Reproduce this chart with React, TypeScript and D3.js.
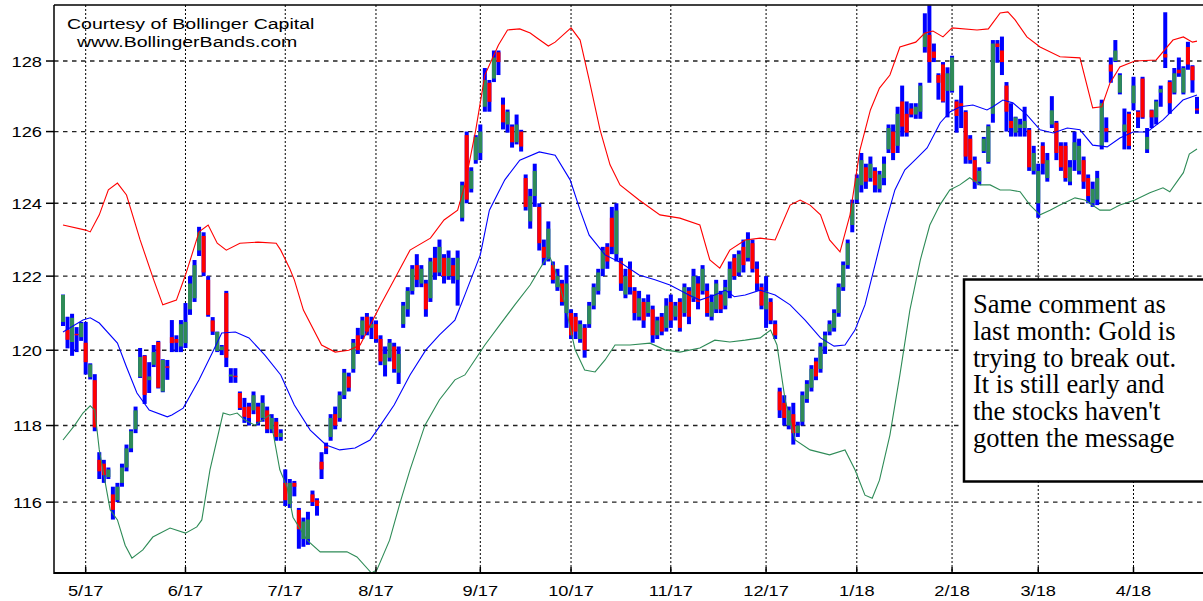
import React, { useEffect, useRef } from 'react';
import * as d3 from 'd3';

// month gridlines: label + trading-day index of the first session of the month
const monthLabels = ['5/17', '6/17', '7/17', '8/17', '9/17', '10/17', '11/17', '12/17', '1/18', '2/18', '3/18', '4/18'];
const monthDays = [5, 27, 49, 69, 92, 112, 134, 155, 175, 196, 215, 236];
const priceTicks = [116, 118, 120, 122, 124, 126, 128];

// daily bars, one entry per trading day (index 0 = late April 2017)
const opens = [
  120.76, 120.55, 120.22, 120.44, 120.35, 120.2, 119.28, 119.2, 117.1, 117.0,
  116.65, 116.2, 116.05, 116.5, 116.9, 117.4, 117.9, 119.29, 119.85, 119.2,
  119.61, 120.22, 118.9, 119.57, 120.35, 120.3, 120.1, 120.19, 121.1, 121.4,
  122.7, 123.1, 121.9, 120.8, 119.98, 120.0, 121.54, 119.3, 119.32, 118.86,
  118.49, 118.5, 118.4, 118.5, 118.2, 118.4, 117.9, 118.1, 117.7, 116.5,
  115.95, 116.5, 115.8, 115.05, 115.05, 116.2, 116.05, 117.05, 117.45, 117.7,
  118.3, 118.2, 118.8, 119.3, 119.5, 120.4, 120.4, 120.9, 120.6, 120.7,
  120.3, 119.6, 119.8, 120.1, 119.4, 120.7, 121.1, 121.6, 122.3, 121.8,
  121.8, 121.4, 122.5, 122.1, 122.5, 122.0, 122.3, 121.9, 123.6, 125.9,
  124.4, 125.2, 125.4, 126.7, 127.38, 127.5, 128.25, 126.76, 126.2, 126.14,
  125.7, 126.0, 124.7, 123.5, 124.2, 123.9, 122.8, 122.5, 122.3, 121.7,
  121.8, 121.0, 121.0, 120.9, 120.3, 120.6, 120.7, 121.2, 121.6, 122.2,
  122.8, 123.6, 122.6, 122.4, 121.5, 122.2, 121.6, 120.9, 121.3, 121.0,
  121.1, 120.4, 120.9, 120.6, 121.3, 120.9, 121.3, 121.0, 121.6, 121.4,
  121.8, 121.6, 121.6, 120.9, 121.1, 121.5, 121.2, 121.6, 122.5, 122.1,
  122.8, 122.5, 122.9, 122.2, 121.7, 121.1, 121.3, 120.7, 118.9, 118.6,
  118.0, 118.3, 117.8, 118.1, 118.7, 119.0, 119.7, 119.5, 120.1, 120.5,
  120.6, 121.0, 121.7, 122.3, 123.4, 124.1, 124.5, 125.0, 124.7, 124.9,
  124.4, 124.7, 125.5, 126.0, 125.6, 126.85, 126.5, 126.65, 126.48, 126.56,
  128.4, 128.75, 128.27, 127.6, 127.9, 127.15, 127.15, 126.85, 126.8, 126.55,
  125.8, 125.2, 124.6, 125.45, 125.15, 126.5, 128.5, 128.3, 127.3, 126.3,
  125.97, 126.1, 126.1, 126.05, 124.9, 124.0, 125.6, 124.7, 126.2, 126.25,
  125.6, 125.6, 124.6, 125.2, 124.9, 125.2, 124.7, 124.0, 124.1, 125.6,
  126.1, 127.9, 128.0, 127.1, 126.0, 126.5, 126.8, 126.56, 127.5, 125.5,
  126.6, 126.4, 127.1, 128.2, 127.4, 127.1, 127.75, 127.1, 128.4, 127.85,
  126.65,
];
const highs = [
  121.5, 120.9, 120.98, 120.62, 120.76, 120.76, 119.65, 119.36, 117.3, 117.1,
  116.9, 116.4, 116.5, 117.0, 117.5, 117.9, 118.5, 120.06, 119.87, 119.68,
  120.14, 120.25, 119.76, 119.74, 120.81, 120.4, 120.81, 121.27, 122.0, 122.44,
  123.35, 123.2, 122.0, 120.89, 120.5, 120.14, 121.6, 119.52, 119.52, 118.9,
  118.73, 118.6, 118.9, 118.6, 118.8, 118.5, 118.3, 118.2, 117.9, 116.85,
  116.6, 116.55, 115.85, 115.6, 115.75, 116.3, 116.1, 117.3, 117.55, 118.3,
  118.5, 118.9, 119.5, 119.4, 120.3, 120.6, 120.9, 121.0, 120.9, 120.8,
  120.4, 120.1, 120.3, 120.2, 120.1, 121.3, 121.7, 122.3, 122.6, 122.3,
  121.9, 122.5, 122.8, 123.0, 122.6, 122.7, 122.5, 122.7, 124.6, 126.0,
  125.0, 125.9, 126.2, 127.8, 127.46, 128.3, 128.3, 126.96, 126.62, 126.2,
  126.48, 126.05, 124.8, 124.4, 125.1, 124.0, 123.0, 123.5, 122.4, 122.2,
  121.9, 122.3, 121.1, 121.0, 120.8, 120.7, 121.3, 121.8, 122.2, 122.8,
  122.9, 123.9, 124.0, 122.5, 122.2, 122.4, 121.7, 121.6, 121.4, 121.5,
  121.2, 120.9, 121.0, 121.4, 121.5, 121.3, 121.4, 121.8, 121.7, 122.2,
  122.0, 122.3, 121.8, 121.5, 121.9, 121.6, 121.9, 122.4, 122.6, 122.7,
  123.0, 123.2, 123.0, 122.4, 121.8, 122.0, 121.4, 120.8, 119.0, 118.8,
  118.5, 118.6, 118.1, 118.9, 119.2, 119.6, 119.8, 120.2, 120.5, 120.8,
  121.1, 121.8, 122.4, 123.0, 124.1, 124.8, 125.4, 125.1, 125.3, 125.0,
  124.9, 125.3, 126.2, 126.2, 126.7, 127.3, 126.85, 126.8, 126.8, 127.38,
  129.37, 129.6, 128.5, 127.65, 127.97, 127.82, 128.15, 126.9, 127.3, 126.6,
  125.9, 125.3, 125.0, 125.85, 126.2, 128.6, 128.6, 128.7, 127.4, 126.8,
  126.42, 126.36, 126.7, 126.1, 125.6, 125.1, 125.7, 125.4, 127.0, 126.3,
  125.7, 125.7, 125.2, 126.0, 125.8, 125.3, 124.8, 124.6, 124.9, 126.9,
  126.4, 128.1, 128.6, 127.65, 126.65, 126.56, 127.55, 126.6, 127.55, 126.1,
  126.62, 126.9, 127.3, 129.4, 127.45, 127.8, 128.1, 127.85, 128.55, 127.88,
  126.98,
];
const lows = [
  120.65, 120.05, 119.85, 119.95, 120.25, 119.35, 119.22, 117.85, 116.6, 116.5,
  116.6, 115.55, 116.0, 116.4, 116.8, 117.3, 117.8, 119.26, 118.57, 118.86,
  119.55, 118.98, 118.88, 119.21, 119.95, 119.95, 119.95, 120.06, 120.95, 121.3,
  122.55, 122.0, 120.9, 120.41, 119.95, 119.87, 119.55, 119.13, 119.13, 118.41,
  118.07, 118.0, 118.3, 118.0, 118.1, 117.8, 117.8, 117.6, 117.6, 115.9,
  115.85, 116.15, 114.8, 114.85, 114.9, 115.9, 115.65, 116.6, 117.25, 117.6,
  117.9, 118.1, 118.7, 118.9, 119.4, 119.9, 120.3, 120.4, 120.3, 120.2,
  119.6, 119.3, 119.7, 119.4, 119.1, 120.6, 120.9, 121.5, 121.7, 121.7,
  120.9, 121.3, 121.9, 122.0, 121.8, 121.9, 121.8, 121.2, 123.5, 124.0,
  124.3, 125.1, 125.2, 126.56, 126.56, 127.4, 127.6, 126.06, 125.97, 125.55,
  125.64, 125.44, 123.8, 123.3, 123.9, 122.7, 122.3, 122.4, 121.8, 121.6,
  121.2, 120.6, 120.3, 120.3, 120.2, 119.8, 120.6, 121.1, 121.5, 122.0,
  122.2, 122.6, 122.4, 121.6, 121.4, 121.5, 120.8, 120.8, 120.6, 120.9,
  120.2, 120.3, 120.4, 120.5, 120.6, 120.8, 120.5, 120.9, 120.7, 121.3,
  121.1, 121.5, 120.9, 120.8, 121.0, 121.0, 121.1, 121.4, 121.9, 122.0,
  122.1, 122.4, 122.1, 121.6, 121.1, 120.6, 120.7, 120.3, 118.2, 118.0,
  117.9, 117.5, 117.7, 118.0, 118.6, 118.9, 119.2, 119.4, 119.9, 120.4,
  120.5, 120.9, 121.6, 122.2, 123.2, 124.0, 124.3, 124.4, 124.6, 124.3,
  124.3, 124.5, 125.4, 125.2, 125.4, 125.86, 125.86, 126.4, 126.36, 126.36,
  128.24, 127.38, 127.97, 126.9, 126.82, 126.4, 127.1, 125.97, 126.1, 125.1,
  125.1, 124.4, 124.5, 125.4, 125.1, 126.25, 127.95, 127.6, 126.0, 125.86,
  125.86, 125.86, 125.86, 124.9, 124.8, 123.6, 124.8, 124.6, 126.1, 125.2,
  124.9, 124.6, 124.5, 124.9, 124.8, 124.4, 124.0, 123.9, 123.95, 125.5,
  125.7, 127.38, 127.97, 127.05, 125.5, 125.5, 126.6, 126.1, 126.36, 125.4,
  126.1, 126.2, 126.7, 127.8, 126.5, 127.05, 127.55, 127.05, 127.75, 127.1,
  126.5,
];
const closes = [
  121.49, 120.28, 120.87, 120.4, 120.73, 119.68, 119.62, 117.95, 116.8, 116.7,
  116.85, 115.8, 116.4, 116.9, 117.4, 117.85, 118.4, 119.82, 118.81, 119.3,
  119.95, 119.0, 119.74, 119.53, 120.19, 120.2, 120.7, 120.76, 121.8, 122.3,
  123.2, 122.1, 120.95, 120.5, 120.49, 120.1, 119.8, 119.35, 119.28, 118.46,
  118.23, 118.2, 118.8, 118.1, 118.6, 117.9, 118.2, 117.7, 117.8, 116.05,
  116.5, 116.4, 115.3, 115.5, 115.55, 116.0, 115.9, 116.85, 117.4, 118.2,
  118.0, 118.8, 119.4, 119.0, 120.2, 120.0, 120.8, 120.5, 120.7, 120.3,
  119.7, 119.9, 120.2, 119.5, 119.9, 121.2, 121.6, 122.2, 121.9, 122.2,
  121.1, 122.4, 122.1, 122.8, 122.0, 122.5, 122.0, 122.5, 124.5, 124.1,
  124.9, 125.85, 126.0, 127.46, 126.84, 128.1, 127.97, 126.26, 126.56, 125.7,
  126.2, 125.58, 123.9, 124.2, 124.9, 122.9, 122.5, 123.3, 121.9, 122.0,
  121.3, 121.8, 120.4, 120.5, 120.7, 120.0, 121.2, 121.7, 122.1, 122.7,
  122.4, 122.8, 123.8, 121.8, 122.0, 121.7, 121.0, 121.4, 120.8, 121.3,
  120.4, 120.8, 120.5, 121.2, 120.8, 121.2, 120.6, 121.7, 120.9, 122.0,
  121.3, 122.2, 121.0, 121.3, 121.8, 121.1, 121.7, 122.2, 122.0, 122.6,
  122.3, 123.0, 122.2, 121.8, 121.2, 121.6, 120.8, 120.4, 118.4, 118.2,
  118.4, 117.8, 118.0, 118.8, 119.1, 119.5, 119.3, 120.1, 120.4, 120.7,
  121.0, 121.7, 122.3, 122.9, 124.0, 124.7, 125.2, 124.6, 125.1, 124.5,
  124.8, 125.1, 126.1, 125.4, 126.5, 126.14, 125.97, 126.48, 126.7, 127.3,
  128.8, 127.97, 128.09, 127.38, 126.85, 127.65, 128.1, 126.44, 126.7, 125.3,
  125.2, 124.6, 124.9, 125.8, 126.15, 128.5, 128.4, 127.97, 126.56, 126.1,
  126.4, 126.2, 126.3, 125.0, 125.4, 124.9, 125.1, 125.2, 126.6, 125.4,
  125.0, 124.7, 125.0, 125.7, 125.6, 124.6, 124.2, 124.4, 124.7, 126.8,
  126.0, 127.7, 128.3, 127.6, 126.2, 125.6, 127.3, 126.4, 126.4, 125.85,
  126.4, 126.85, 127.2, 128.1, 126.8, 127.65, 127.65, 127.8, 127.9, 127.45,
  126.6,
];

// Bollinger bands as [trading day, price]
const upperBand = [
  [0, 123.4], [5, 123.26], [6, 123.21], [8, 123.68], [10, 124.37], [12, 124.56], [14, 124.23],
  [17, 122.99], [20, 121.9], [22, 121.22], [25, 121.35], [27, 122.03], [30, 123.21], [32, 123.4],
  [34, 122.9], [36, 122.71], [39, 122.9], [43, 122.93], [47, 122.9], [48, 122.71], [50, 122.2],
  [51, 121.9], [53, 121.08], [57, 120.14], [60, 119.95], [63, 120.0], [65.5, 120.14], [70, 121.22],
  [73, 121.9], [76.5, 122.71], [81, 123.04], [84, 123.54], [87, 123.81], [88.6, 124.51], [91, 126.05],
  [93, 127.6], [96, 128.46], [98, 128.89], [100.7, 128.92], [103, 128.8], [104.5, 128.66], [107, 128.43],
  [108.5, 128.54], [110.7, 128.8], [112, 128.95], [114, 128.6], [116, 127.46], [118.4, 126.05],
  [120.6, 125.07], [122.8, 124.51], [127, 124.09], [131.6, 123.68], [136, 123.59], [140.4, 123.4],
  [142.6, 122.44], [144.8, 122.22], [147, 122.71], [150.4, 122.99], [153.7, 123.04], [157, 122.99],
  [160.3, 123.95], [162.5, 124.09], [164.7, 123.95], [167, 123.68], [169, 122.99], [171.3, 122.66],
  [173.5, 123.68], [175.7, 125.49], [178, 126.61], [180, 127.23], [182.3, 127.6], [184.5, 128.4],
  [188, 128.54], [190, 128.8], [191.8, 128.86], [194, 128.69], [196, 128.95], [201.5, 128.89],
  [204, 128.92], [206.6, 129.38], [208.3, 129.41], [209.9, 129.18], [212.5, 128.69], [215.4, 128.4],
  [219.8, 128.12], [224.2, 128.09], [227, 126.67], [229, 126.7], [230.8, 127.37], [233, 127.83],
  [236.3, 128.0], [241, 128.03], [244.7, 128.6], [247, 128.69], [249, 128.54], [250, 128.57],
];
const middleBand = [
  [0, 120.49], [4.4, 120.81], [6, 120.87], [8, 120.73], [12, 120.19], [14, 119.55], [16.3, 118.86],
  [19, 118.41], [23, 118.23], [24, 118.28], [26.5, 118.46], [30, 119.21], [33, 119.95], [35, 120.46],
  [38, 120.49], [41, 120.33], [44.5, 119.87], [48, 119.34], [51, 118.54], [54.5, 117.88], [58, 117.49],
  [61, 117.36], [64.4, 117.41], [67.7, 117.62], [70, 118.01], [73, 118.54], [76.5, 119.34], [80, 120.01],
  [83, 120.41], [86.4, 120.81], [88.6, 121.49], [92, 122.58], [94, 123.81], [97.4, 124.65],
  [100.7, 125.2], [105, 125.43], [108.5, 125.34], [111.8, 124.65], [114, 123.81], [116, 123.12],
  [119.5, 122.58], [122.8, 122.38], [127, 122.03], [130.5, 121.9], [133.8, 121.76], [138, 121.49],
  [140.4, 121.35], [143.7, 121.49], [146, 121.62], [148, 121.44], [150.4, 121.49], [153.7, 121.62],
  [157, 121.49], [160.3, 121.22], [163.6, 120.81], [167, 120.33], [170, 120.11], [172.4, 120.14],
  [174.6, 120.54], [176.8, 121.22], [179, 122.3], [181.2, 123.4], [183.4, 124.37], [185.6, 124.93],
  [187.8, 125.2], [190.5, 125.54], [193.4, 126.25], [195.6, 126.56], [197.8, 126.7], [200.6, 126.75],
  [203.7, 126.61], [205, 126.7], [207.2, 126.89], [209.4, 126.81], [212.5, 126.47], [215.4, 126.05],
  [218.3, 125.96], [221.4, 126.1], [224.2, 126.05], [227, 125.62], [230.2, 125.57], [233, 125.82],
  [235.9, 125.99], [239, 125.99], [242.5, 126.33], [246.9, 126.89], [250, 127.03],
];
const lowerBand = [
  [0, 117.62], [2.6, 118.01], [4.4, 118.33], [6, 118.52], [7, 118.41], [8, 117.36], [10.4, 115.8],
  [12, 115.54], [13.7, 114.89], [15.2, 114.56], [17.6, 114.77], [19.8, 115.1], [23.6, 115.33],
  [27, 115.2], [29.5, 115.36], [30.6, 115.54], [32.4, 116.84], [35.3, 118.33], [36.8, 118.28],
  [38.4, 118.33], [40, 118.15], [42.3, 118.01], [45.6, 118.28], [47.8, 116.84], [49.4, 116.39],
  [50.7, 115.61], [53.8, 115.02], [56.7, 114.72], [60, 114.72], [62.6, 114.72], [64.8, 114.59],
  [68, 114.18], [69.2, 114.26], [72, 115.02], [74.3, 115.98], [76.5, 116.84], [79.8, 118.01],
  [83, 118.68], [86.4, 119.21], [88.6, 119.34], [90.8, 119.74], [93, 120.14], [96.3, 120.68],
  [99.6, 121.22], [103, 121.76], [106.3, 122.44], [107.4, 122.5], [108.5, 122.17], [110.7, 121.22],
  [112.9, 120.01], [115, 119.47], [117.3, 119.42], [119.5, 119.74], [121.7, 120.14], [125, 120.14],
  [129.4, 120.19], [132.7, 120.01], [136, 119.95], [140.4, 120.06], [143.7, 120.27], [147, 120.22],
  [150.4, 120.27], [153.7, 120.33], [156, 120.54], [157.4, 120.14], [159.2, 118.68], [161.4, 117.62],
  [164.7, 117.36], [169, 117.23], [172.4, 117.36], [174.6, 116.84], [176.8, 116.18], [178.4, 116.1],
  [180, 116.57], [182.3, 117.75], [184.5, 119.34], [186.7, 121.08], [189, 122.44], [191.1, 123.4],
  [193.3, 123.95], [195.5, 124.37], [197.7, 124.51], [199.9, 124.71], [202.2, 124.51], [204.4, 124.51],
  [206.6, 124.37], [208.8, 124.37], [211, 124.32], [213.2, 123.95], [215.4, 123.68], [217.6, 123.81],
  [219.8, 123.95], [223.1, 124.15], [225.3, 124.09], [228.6, 123.81], [230.8, 123.81], [233, 123.95],
  [236.3, 124.09], [239.6, 124.29], [242.5, 124.43], [244, 124.32], [247, 124.85], [248.3, 125.37],
  [250, 125.51],
];

const credits = ['Courtesy of Bollinger Capital', 'www.BollingerBands.com'];
const comment = [
  'Same comment as',
  'last month: Gold is',
  'trying to break out.',
  'It is still early and',
  "the stocks haven't",
  'gotten the message',
];

const BLUE = '#0000ff';
const RED = '#ff0000';
const GREEN = '#2e8b57';
const SANS = '"Liberation Sans", Arial, sans-serif';
const STRETCH = 1.26; // the original picture is stretched sideways

export default function App() {
  const svgRef = useRef<SVGSVGElement>(null);

  useEffect(() => {
    const svg = d3.select(svgRef.current);
    svg.selectAll('*').remove();

    const left = 54, top = 5, right = 1203, bottom = 573;
    const x = d3.scaleLinear().domain([0, opens.length - 1]).range([63, 1197]);
    const y = d3.scaleLog().domain([114.18, 129.61]).range([bottom, top]);

    svg.append('defs').append('clipPath').attr('id', 'plot')
      .append('rect').attr('x', left).attr('y', top).attr('width', right - left).attr('height', bottom - top);

    // grid
    svg.append('g').selectAll('line').data(priceTicks).join('line')
      .attr('x1', left).attr('x2', right)
      .attr('y1', (d) => y(d)).attr('y2', (d) => y(d))
      .attr('stroke', '#222').attr('stroke-width', 1.4).attr('stroke-dasharray', '4.5,4.5');
    svg.append('g').selectAll('line').data(monthDays).join('line')
      .attr('x1', (d) => x(d)).attr('x2', (d) => x(d))
      .attr('y1', top).attr('y2', bottom)
      .attr('stroke', '#000').attr('stroke-width', 1).attr('stroke-dasharray', '2,2');

    const plot = svg.append('g').attr('clip-path', 'url(#plot)');
    const idx = d3.range(opens.length);

    // high-low ranges
    plot.append('g').selectAll('rect').data(idx).join('rect')
      .attr('x', (i) => x(i) - 2)
      .attr('width', 4)
      .attr('y', (i) => y(highs[i]))
      .attr('height', (i) => Math.max(1.5, y(lows[i]) - y(highs[i])))
      .attr('fill', BLUE);

    // open-close bodies
    plot.append('g').selectAll('rect').data(idx).join('rect')
      .attr('x', (i) => x(i) - 2)
      .attr('width', 4)
      .attr('y', (i) => y(Math.max(opens[i], closes[i])))
      .attr('height', (i) => Math.max(1.5, Math.abs(y(opens[i]) - y(closes[i]))))
      .attr('fill', (i) => (closes[i] >= opens[i] ? GREEN : RED));

    // bands
    const line = d3.line<number[]>().x((d) => x(d[0])).y((d) => y(d[1]));
    [[upperBand, RED], [middleBand, BLUE], [lowerBand, GREEN]].forEach(([data, color]) => {
      plot.append('path')
        .attr('d', line(data as number[][]))
        .attr('fill', 'none')
        .attr('stroke', color as string)
        .attr('stroke-width', 1.1);
    });

    // frame
    const frame = svg.append('g').attr('stroke', '#000');
    frame.append('line').attr('x1', left).attr('x2', right).attr('y1', top).attr('y2', top).attr('stroke-width', 1.5);
    frame.append('line').attr('x1', left).attr('x2', left).attr('y1', top).attr('y2', bottom + 1).attr('stroke-width', 1.5);
    frame.append('line').attr('x1', left).attr('x2', right).attr('y1', bottom).attr('y2', bottom).attr('stroke-width', 2);

    // y ticks and labels
    frame.append('g').selectAll('line').data(priceTicks).join('line')
      .attr('x1', left - 8).attr('x2', left)
      .attr('y1', (d) => y(d)).attr('y2', (d) => y(d))
      .attr('stroke-width', 1.5);
    svg.append('g').selectAll('text').data(priceTicks).join('text')
      .attr('transform', (d) => `translate(42,${y(d) + 5.5}) scale(${STRETCH},1)`)
      .attr('text-anchor', 'end')
      .attr('font-family', SANS).attr('font-size', 14.5)
      .text((d) => String(d));

    // x ticks and labels
    frame.append('g').selectAll('line').data(monthDays).join('line')
      .attr('x1', (d) => x(d)).attr('x2', (d) => x(d))
      .attr('y1', bottom - 6).attr('y2', bottom)
      .attr('stroke-width', 1.5);
    svg.append('g').selectAll('text').data(monthDays).join('text')
      .attr('transform', (d) => `translate(${x(d)},596) scale(${STRETCH},1)`)
      .attr('text-anchor', 'middle')
      .attr('font-family', SANS).attr('font-size', 14.5)
      .text((d, i) => monthLabels[i]);

    // credits
    svg.append('g').selectAll('text').data(credits).join('text')
      .attr('transform', (d, i) => `translate(${i === 0 ? 67 : 77},${29 + i * 17.5}) scale(${STRETCH},1)`)
      .attr('font-family', SANS).attr('font-size', 15.5)
      .text((d) => d);

    // comment box
    const box = svg.append('g');
    box.append('rect')
      .attr('x', 964).attr('y', 279.5).attr('width', 260).attr('height', 202)
      .attr('fill', '#fff').attr('stroke', '#000').attr('stroke-width', 2.5);
    box.selectAll('text').data(comment).join('text')
      .attr('x', 973)
      .attr('y', (d, i) => 313.3 + i * 26.67)
      .attr('font-family', '"Liberation Serif", "Times New Roman", serif')
      .attr('font-size', 26.5)
      .text((d) => d);
  }, []);

  return (
    <svg
      ref={svgRef}
      width={1203}
      height={601}
      style={{ position: 'absolute', left: 0, top: 0, background: '#fff' }}
    />
  );
}
